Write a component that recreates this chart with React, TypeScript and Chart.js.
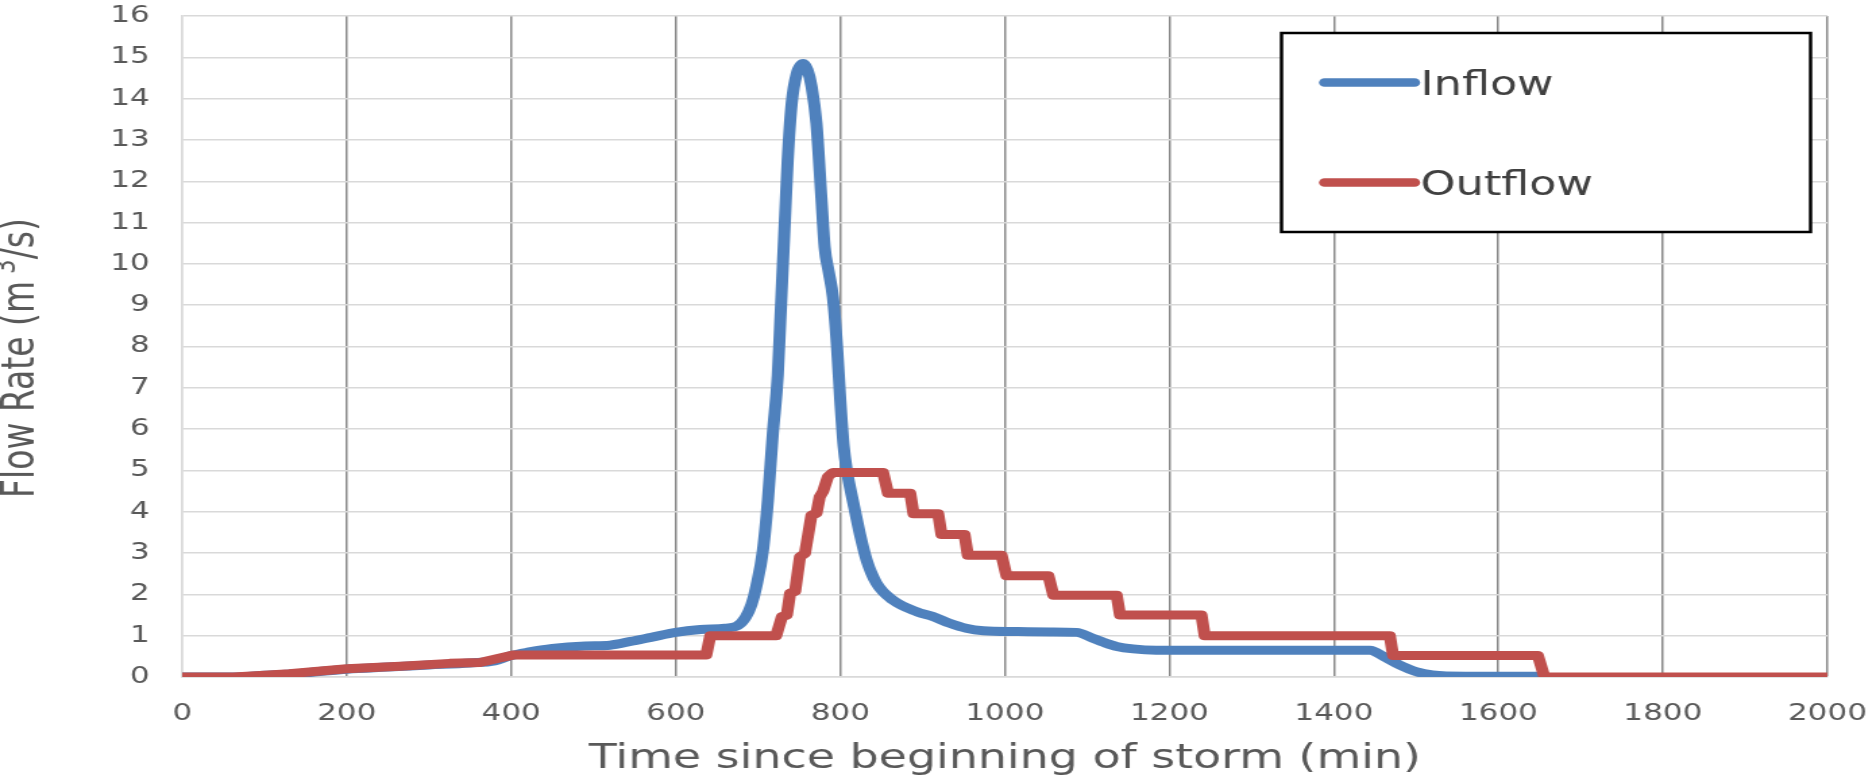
import React, { useEffect, useRef } from 'react';
import { Chart, registerables } from 'chart.js';

Chart.register(...registerables);

// ---- data ----
const inflowTime = [0, 60, 100, 150, 200, 250, 300, 350, 380, 400, 420, 450, 490, 520, 545, 570, 600, 630, 660, 675, 685, 692, 698, 706, 712, 718, 724, 727, 730, 733, 736, 741, 747, 755, 760, 765, 771, 777, 781, 786, 791, 796, 800, 804, 808, 816, 824, 832, 844, 864, 893, 913, 933, 953, 974, 1014, 1055, 1087, 1107, 1120, 1136, 1156, 1184, 1300, 1444, 1460, 1480, 1500, 1520, 1560, 1650];
const inflowRate = [0, 0, 0.04, 0.1, 0.19, 0.24, 0.29, 0.34, 0.39, 0.52, 0.6, 0.69, 0.75, 0.77, 0.86, 0.96, 1.08, 1.15, 1.18, 1.24, 1.45, 1.75, 2.2, 3.07, 4.28, 5.9, 7.3, 8.6, 9.9, 11.2, 12.5, 13.9, 14.6, 14.85, 14.7, 14.3, 13.4, 11.6, 10.4, 9.8, 9.2, 8.0, 6.7, 5.6, 5.0, 4.2, 3.45, 2.83, 2.27, 1.86, 1.58, 1.46, 1.3, 1.18, 1.12, 1.1, 1.09, 1.08, 0.94, 0.84, 0.74, 0.68, 0.65, 0.65, 0.65, 0.5, 0.29, 0.13, 0.05, 0.02, 0.02];

const outflowTime = [0, 62, 100, 130, 200, 265, 325, 362, 386, 402, 637, 642, 722, 729, 735, 739, 745, 751, 757, 765, 771, 775, 779, 785, 791, 852, 858, 885, 889, 919, 923, 951, 955, 996, 1002, 1053, 1059, 1136, 1140, 1239, 1243, 1468, 1472, 1648, 1656, 2000];
const outflowRate = [0, 0, 0.04, 0.08, 0.2, 0.26, 0.33, 0.35, 0.46, 0.53, 0.53, 1.0, 1.0, 1.46, 1.5, 2.03, 2.07, 2.91, 2.99, 3.92, 3.96, 4.36, 4.49, 4.85, 4.95, 4.95, 4.45, 4.45, 3.95, 3.95, 3.45, 3.45, 2.95, 2.95, 2.45, 2.45, 1.98, 1.98, 1.5, 1.5, 1.0, 1.0, 0.52, 0.52, 0, 0];

const seriesLabels = ['Inflow', 'Outflow'];
const seriesColors = ['#4F81BD', '#C0504D'];
const xMin = 0;
const xMax = 2000;
const xStep = 200;
const yMin = 0;
const yMax = 16;
const yStep = 1;
const xTitle = 'Time since beginning of storm (min)';
const yTitleMain = 'Flow Rate (m';
const yTitleSup = '3';
const yTitleEnd = '/s)';

// ---- layout (internal canvas is narrower, stretched horizontally by CSS) ----
const CSS_W = 1876;
const CSS_H = 784;
const SX = 1.35;
const W = Math.round(CSS_W / SX);
const H = CSS_H;
const FONT = "'DejaVu Sans', Verdana, sans-serif";
const TEXT = '#595959';

const toPts = (xs: number[], ys: number[]) => xs.map((x, i) => ({ x, y: ys[i] }));

const overlayPlugin = {
  id: 'overlay',
  afterDraw(chart: any) {
    const ctx = chart.ctx as CanvasRenderingContext2D;
    const area = chart.chartArea;
    ctx.save();

    // Y axis title with superscript
    const mainFont = `33px ${FONT}`;
    const supFont = `23px ${FONT}`;
    ctx.font = mainFont;
    const w1 = ctx.measureText(yTitleMain).width;
    const w3 = ctx.measureText(yTitleEnd).width;
    ctx.font = supFont;
    const w2 = ctx.measureText(yTitleSup).width;
    const gap = 7;
    const total = w1 + gap + w2 + w3;
    const centerY = 358;
    ctx.translate(25, centerY + total / 2);
    ctx.rotate(-Math.PI / 2);
    ctx.fillStyle = TEXT;
    ctx.textBaseline = 'alphabetic';
    ctx.textAlign = 'left';
    ctx.font = mainFont;
    ctx.fillText(yTitleMain, 0, 0);
    ctx.font = supFont;
    ctx.fillText(yTitleSup, w1 + gap, -14);
    ctx.font = mainFont;
    ctx.fillText(yTitleEnd, w1 + gap + w2, 0);
    ctx.restore();

    // Legend box inside the plot area (top-right)
    ctx.save();
    const bx = area.right - 404.5;
    const by = 33;
    const bw = 392;
    const bh = 199;
    ctx.fillStyle = '#ffffff';
    ctx.fillRect(bx, by, bw, bh);
    ctx.lineWidth = 2.5;
    ctx.strokeStyle = '#000000';
    ctx.strokeRect(bx, by, bw, bh);
    const rows = [82.5, 182.5];
    seriesLabels.forEach((lab, i) => {
      const y = rows[i];
      ctx.beginPath();
      ctx.moveTo(bx + 32, y);
      ctx.lineTo(bx + 98.5, y);
      ctx.lineWidth = 8.5;
      ctx.lineCap = 'round';
      ctx.strokeStyle = seriesColors[i];
      ctx.stroke();
      ctx.font = `33px ${FONT}`;
      ctx.fillStyle = '#404040';
      ctx.textBaseline = 'alphabetic';
      ctx.textAlign = 'left';
      ctx.fillText(lab, bx + 103, y + 12);
    });
    ctx.restore();
  },
};

export default function App() {
  const ref = useRef<HTMLCanvasElement | null>(null);

  useEffect(() => {
    if (!ref.current) return;
    const chart = new Chart(ref.current, {
      type: 'line',
      data: {
        datasets: [
          {
            label: seriesLabels[0],
            data: toPts(inflowTime, inflowRate),
            borderColor: seriesColors[0],
            backgroundColor: seriesColors[0],
            borderWidth: 9,
            pointRadius: 0,
            cubicInterpolationMode: 'monotone',
            borderJoinStyle: 'round',
            borderCapStyle: 'round',
            fill: false,
            order: 1,
          },
          {
            label: seriesLabels[1],
            data: toPts(outflowTime, outflowRate),
            borderColor: seriesColors[1],
            backgroundColor: seriesColors[1],
            borderWidth: 9,
            pointRadius: 0,
            tension: 0,
            borderJoinStyle: 'round',
            borderCapStyle: 'round',
            fill: false,
            order: 0,
          },
        ],
      },
      options: {
        animation: false,
        responsive: false,
        devicePixelRatio: 1,
        layout: { padding: { top: 16, right: W - Math.round(1828 / SX), left: 0, bottom: 0 } },
        plugins: {
          legend: { display: false },
          tooltip: { enabled: false },
        },
        scales: {
          x: {
            type: 'linear',
            min: xMin,
            max: xMax,
            afterFit: (s: any) => { s.height = 107; },
            ticks: {
              stepSize: xStep,
              padding: 0,
              color: TEXT,
              font: { family: FONT, size: 23 },
              maxRotation: 0,
              callback: (v: any) => String(v),
            },
            grid: {
              drawTicks: true,
              tickLength: 23,
              tickColor: 'rgba(0,0,0,0)',
              lineWidth: 1.5,
              color: (c: any) => (c.tick && c.tick.value === 0 ? '#d9d9d9' : '#8a8a8a'),
            },
            border: { display: true, color: '#d9d9d9', width: 1.5 },
            title: {
              display: true,
              text: xTitle,
              color: TEXT,
              font: { family: FONT, size: 34 },
              padding: { top: 0, bottom: 4 },
            },
          },
          y: {
            type: 'linear',
            min: yMin,
            max: yMax,
            afterFit: (s: any) => { s.width = Math.round(182 / SX); },
            ticks: {
              stepSize: yStep,
              padding: 0,
              color: TEXT,
              font: { family: FONT, size: 23 },
            },
            grid: {
              drawTicks: true,
              tickLength: 24,
              tickColor: 'rgba(0,0,0,0)',
              lineWidth: 1.5,
              color: '#d9d9d9',
            },
            border: { display: true, color: '#d9d9d9', width: 1.5 },
          },
        },
      },
      plugins: [overlayPlugin],
    } as any);
    return () => chart.destroy();
  }, []);

  return (
    <div style={{ position: 'fixed', left: 0, top: 0, width: CSS_W, height: CSS_H, background: '#ffffff' }}>
      <canvas
        ref={ref}
        width={W}
        height={H}
        style={{ width: `${CSS_W}px`, height: `${CSS_H}px`, display: 'block' }}
      />
    </div>
  );
}
